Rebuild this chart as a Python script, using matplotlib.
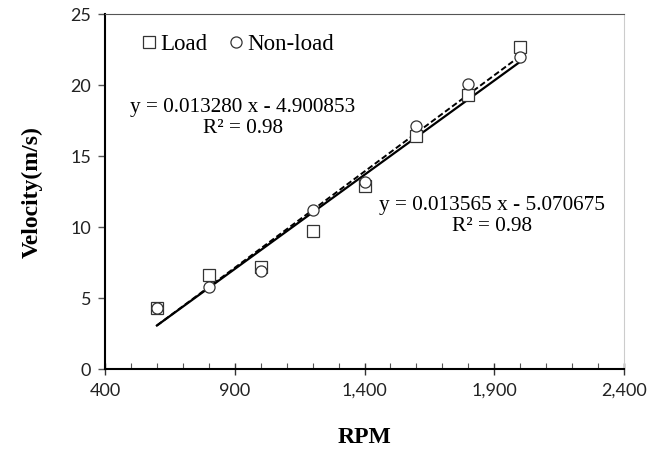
import numpy as np
import matplotlib.pyplot as plt
from matplotlib.ticker import FixedLocator, MultipleLocator, FuncFormatter

rpm = [600, 800, 1000, 1200, 1400, 1600, 1800, 2000]
load = [4.3, 6.6, 7.2, 9.7, 12.9, 16.4, 19.3, 22.7]
nonload = [4.3, 5.8, 6.9, 11.2, 13.2, 17.1, 20.1, 22.0]

# trendline coefficients as printed on the chart
load_fit = (0.013280, -4.900853)
nonload_fit = (0.013565, -5.070675)
load_eq = "y = 0.013280 x - 4.900853\nR² = 0.98"
nonload_eq = "y = 0.013565 x - 5.070675\nR² = 0.98"
x_ticks = [400, 900, 1400, 1900, 2400]

serif = "Liberation Serif"
sans = "Lato"

fig = plt.figure(figsize=(6.47, 4.59), dpi=100)
ax = fig.add_axes([0.1623, 0.196, 0.8022, 0.7729])

xs = np.array([rpm[0], rpm[-1]])
ax.plot(xs, load_fit[0] * xs + load_fit[1], color="black", lw=1.6, zorder=2)
ax.plot(xs, nonload_fit[0] * xs + nonload_fit[1], color="black", lw=1.4,
        ls=(0, (3, 1.5)), zorder=2)

ax.plot(rpm, load, ls="none", marker="s", ms=8, mfc="white", mec="#333333",
        mew=0.9, label="Load", zorder=3)
ax.plot(rpm, nonload, ls="none", marker="o", ms=8, mfc="white", mec="#333333",
        mew=0.9, label="Non-load", zorder=3)

ax.set_xlim(400, 2400)
ax.set_ylim(0, 25)
ax.xaxis.set_major_locator(FixedLocator(x_ticks))
ax.xaxis.set_minor_locator(MultipleLocator(100))
ax.yaxis.set_major_locator(MultipleLocator(5))
ax.xaxis.set_major_formatter(FuncFormatter(lambda v, p: f"{int(v):,}"))

ax.spines["left"].set_linewidth(1.5)
ax.spines["bottom"].set_linewidth(1.5)
ax.spines["top"].set_color("#555555")
ax.spines["top"].set_linewidth(0.8)
ax.spines["right"].set_color("#cccccc")
ax.spines["right"].set_linewidth(0.8)

ax.tick_params(axis="x", which="major", direction="inout", length=8, width=1,
               color="#333333", pad=6)
ax.tick_params(axis="x", which="minor", direction="in", length=4, width=0.8,
               color="#555555")
ax.tick_params(axis="y", which="major", direction="out", length=5, width=1,
               color="#555555", pad=5)
for lab in ax.get_xticklabels() + ax.get_yticklabels():
    lab.set_fontfamily(sans)
    lab.set_fontsize(13)
    lab.set_color("#222222")

ax.set_xlabel("RPM", fontfamily=serif, fontweight="bold", fontsize=17, labelpad=20)
ax.set_ylabel("Velocity(m/s)", fontfamily=serif, fontweight="bold", fontsize=17,
              labelpad=20)

ax.legend(loc="center left", bbox_to_anchor=(0.045, 0.915), ncol=2, frameon=False,
          prop={"family": serif, "size": 16.5}, handletextpad=0.0,
          columnspacing=0.75, handlelength=1.0, borderaxespad=0)

ax.text(0.266, 0.708, load_eq, transform=ax.transAxes, ha="center", va="center",
        multialignment="center", fontfamily=serif, fontsize=15.3, linespacing=1.1)
ax.text(0.746, 0.431, nonload_eq, transform=ax.transAxes, ha="center", va="center",
        multialignment="center", fontfamily=serif, fontsize=15.3, linespacing=1.1)

fig.savefig("out.png", dpi=100)
